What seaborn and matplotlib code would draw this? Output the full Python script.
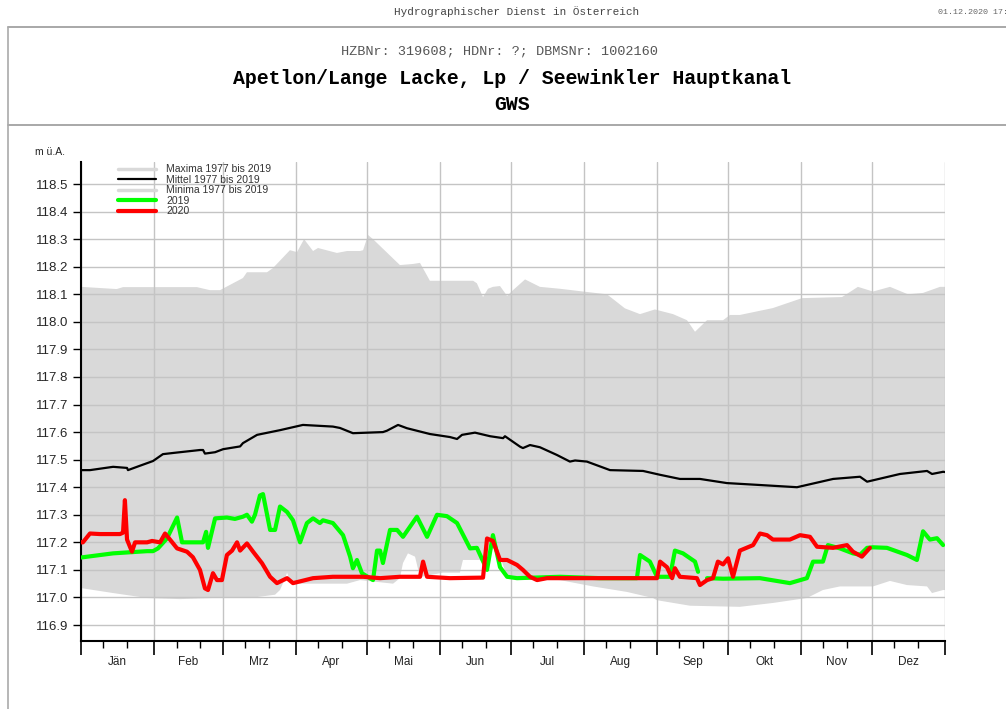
import numpy as np
import matplotlib
matplotlib.use("Agg")
import matplotlib.pyplot as plt
from matplotlib.lines import Line2D
import seaborn as sns

# Tage ab 1. Jänner 2020 (Schaltjahr) und Wasserstände in m ü.A.
max_day = [0, 15.1, 17.8, 49.1, 54.6, 58.9, 68.6, 70.3, 78.8, 81.3, 88.5, 91.5, 94.5, 98.3,
           100.4, 108.4, 112.7, 118.2, 119.5, 121.6, 123.7, 135.1, 140.6, 143.6, 147.8, 166.1,
           167.7, 170.3, 172.4, 174.5, 177.5, 180.5, 183.0, 188.1, 194.4, 202.9, 212.7, 222.8,
           230.4, 236.8, 243.1, 250.8, 256.7, 260.1, 265.2, 272.0, 274.9, 279.1, 293.1, 305.4,
           322.4, 329.1, 335.5, 342.7, 350.3, 356.7, 363.9, 366]
max_val = [118.127, 118.119, 118.126, 118.126, 118.115, 118.115, 118.159, 118.18, 118.18,
           118.195, 118.26, 118.253, 118.30, 118.257, 118.268, 118.25, 118.257, 118.257,
           118.26, 118.315, 118.30, 118.206, 118.21, 118.214, 118.149, 118.149, 118.14,
           118.09, 118.12, 118.127, 118.13, 118.094, 118.115, 118.154, 118.127, 118.12,
           118.11, 118.10, 118.049, 118.028, 118.045, 118.028, 118.006, 117.964, 118.006,
           118.006, 118.025, 118.025, 118.05, 118.086, 118.09, 118.127, 118.11, 118.127,
           118.10, 118.105, 118.127, 118.127]

min_day = [0, 13.6, 28.0, 41.9, 55.9, 71.6, 82.2, 84.3, 86.0, 87.3, 88.5, 92.8, 98.3, 112.7,
           118.2, 132.2, 135.1, 136.4, 138.5, 141.5, 143.6, 153.3, 160.5, 161.8, 169.0, 172.0,
           173.3, 174.5, 177.5, 180.5, 202.9, 216.9, 231.3, 242.3, 244.0, 258.0, 279.1, 293.1,
           307.5, 314.3, 321.5, 335.5, 342.7, 349.9, 358.4, 360.5, 365.2, 366]
min_val = [117.034, 117.016, 116.998, 116.994, 116.998, 116.998, 117.01, 117.027, 117.06,
           117.09, 117.06, 117.05, 117.05, 117.05, 117.063, 117.05, 117.07, 117.125, 117.16,
           117.148, 117.074, 117.09, 117.09, 117.136, 117.136, 117.10, 117.15, 117.18, 117.15,
           117.074, 117.063, 117.04, 117.02, 116.998, 116.99, 116.97, 116.966, 116.98,
           116.998, 117.027, 117.04, 117.04, 117.06, 117.045, 117.04, 117.016, 117.027,
           117.027]

mean_day = [0, 3.8, 13.6, 19.5, 19.9, 25.0, 30.5, 34.7, 39.8, 50.4, 51.7, 52.5, 56.8, 60.2,
            67.4, 68.6, 74.6, 84.3, 94.0, 106.7, 109.7, 115.2, 127.9, 129.6, 134.3, 138.1,
            147.8, 156.3, 159.3, 161.4, 166.9, 173.3, 178.8, 179.6, 186.0, 187.2, 190.2,
            194.4, 201.6, 207.1, 209.3, 214.3, 224.1, 238.1, 245.3, 253.7, 262.2, 273.6,
            287.6, 303.3, 318.6, 330.0, 333.0, 346.9, 358.4, 360.5, 365.2, 366]
mean_val = [117.462, 117.462, 117.474, 117.47, 117.462, 117.478, 117.495, 117.52, 117.525,
            117.535, 117.535, 117.522, 117.527, 117.538, 117.548, 117.56, 117.59, 117.607,
            117.626, 117.62, 117.615, 117.596, 117.60, 117.605, 117.626, 117.614, 117.593,
            117.582, 117.575, 117.59, 117.598, 117.585, 117.578, 117.585, 117.547, 117.542,
            117.553, 117.545, 117.517, 117.493, 117.497, 117.493, 117.462, 117.459, 117.445,
            117.43, 117.43, 117.415, 117.408, 117.40, 117.43, 117.438, 117.42, 117.448,
            117.459, 117.448, 117.456, 117.455]

# 2019: zwei Abschnitte (Lücke Anfang Oktober)
g19_day_a = [0, 13.6, 28.0, 30.5, 32.6, 36.4, 40.7, 42.8, 46.2, 51.7, 53.0, 53.8, 56.8, 61.8,
             65.2, 68.6, 70.3, 72.4, 73.7, 75.8, 77.1, 80.1, 82.2, 84.3, 87.3, 89.8, 92.8,
             95.7, 98.3, 101.2, 102.5, 106.7, 111.0, 114.0, 115.2, 116.9, 119.0, 123.7, 125.4,
             126.7, 127.9, 130.9, 133.9, 136.4, 142.3, 146.6, 150.8, 155.0, 159.3, 164.8,
             167.7, 172.0, 174.5, 177.5, 180.5, 184.7, 202.9, 219.9, 231.3, 235.5, 236.8,
             241.0, 244.0, 249.5, 251.6, 255.0, 260.1, 261.4]
g19_val_a = [117.145, 117.16, 117.168, 117.168, 117.178, 117.214, 117.29, 117.20, 117.20,
             117.20, 117.238, 117.18, 117.287, 117.29, 117.285, 117.293, 117.30, 117.275,
             117.30, 117.37, 117.375, 117.245, 117.245, 117.33, 117.31, 117.28, 117.20,
             117.27, 117.287, 117.27, 117.28, 117.27, 117.226, 117.148, 117.106, 117.136,
             117.088, 117.063, 117.17, 117.17, 117.125, 117.245, 117.245, 117.22, 117.293,
             117.22, 117.30, 117.295, 117.27, 117.178, 117.18, 117.10, 117.226, 117.11,
             117.075, 117.07, 117.075, 117.07, 117.07, 117.07, 117.154, 117.13, 117.075,
             117.075, 117.17, 117.16, 117.13, 117.093]
g19_day_b = [265.2, 272.0, 287.6, 300.3, 307.5, 310.1, 314.3, 316.4, 321.5, 327.0, 330.0,
             333.0, 335.5, 341.4, 349.9, 354.1, 356.7, 359.6, 362.6, 365.2]
g19_val_b = [117.07, 117.068, 117.07, 117.052, 117.07, 117.13, 117.13, 117.19, 117.178,
             117.16, 117.155, 117.18, 117.182, 117.18, 117.154, 117.136, 117.24, 117.21,
             117.215, 117.19]

r20_day = [0, 0.8, 3.8, 8.0, 16.5, 17.8, 18.6, 19.5, 21.6, 22.9, 28.0, 30.1, 33.5, 35.6,
           37.7, 40.7, 44.9, 47.4, 50.4, 52.5, 53.8, 55.9, 57.6, 59.7, 61.8, 64.0, 66.1,
           67.4, 70.3, 72.9, 76.7, 80.1, 83.0, 87.3, 89.8, 98.3, 106.7, 119.5, 126.7, 135.1,
           143.6, 144.9, 146.6, 156.3, 170.3, 172.0, 174.5, 177.5, 180.5, 184.7, 187.2,
           190.2, 193.2, 197.4, 219.9, 244.0, 245.3, 248.2, 250.4, 251.6, 253.7, 260.9,
           262.2, 265.2, 267.7, 269.8, 272.0, 274.1, 276.2, 279.1, 284.7, 287.6, 290.6,
           293.1, 300.3, 304.6, 308.8, 311.8, 318.6, 324.5, 327.0, 330.8, 334.2]
r20_val = [117.20, 117.20, 117.232, 117.23, 117.23, 117.235, 117.353, 117.21, 117.166,
           117.20, 117.20, 117.205, 117.20, 117.232, 117.21, 117.178, 117.166, 117.146,
           117.10, 117.033, 117.027, 117.088, 117.063, 117.063, 117.154, 117.17, 117.20,
           117.17, 117.196, 117.166, 117.124, 117.075, 117.052, 117.07, 117.052, 117.07,
           117.075, 117.075, 117.07, 117.075, 117.075, 117.13, 117.075, 117.07, 117.072,
           117.214, 117.205, 117.136, 117.136, 117.118, 117.10, 117.075, 117.063, 117.07,
           117.07, 117.07, 117.13, 117.11, 117.07, 117.106, 117.075, 117.07, 117.045,
           117.063, 117.07, 117.13, 117.12, 117.142, 117.075, 117.17, 117.19, 117.232,
           117.226, 117.21, 117.21, 117.226, 117.22, 117.184, 117.18, 117.19, 117.166,
           117.148, 117.18]

month_start = [0, 31, 60, 91, 121, 152, 182, 213, 244, 274, 305, 335, 366]
month_labels = ["Jän", "Feb", "Mrz", "Apr", "Mai", "Jun", "Jul", "Aug", "Sep", "Okt", "Nov", "Dez"]
legend_labels = ["Maxima 1977 bis 2019", "Mittel 1977 bis 2019", "Minima 1977 bis 2019", "2019", "2020"]

sns.set_style("white")
plt.rcParams["font.family"] = ["Liberation Sans", "DejaVu Sans"]

fig = plt.figure(figsize=(10.06, 7.09), dpi=100)
ax = fig.add_axes([81 / 1006, 68 / 709, 864 / 1006, 479 / 709])

grau = "#d9d9d9"
# Band zwischen Minima und Maxima
ax.fill(np.r_[max_day, min_day[::-1]], np.r_[max_val, min_val[::-1]],
        color=grau, lw=0, zorder=1)

sns.lineplot(x=mean_day, y=mean_val, color="black", linewidth=1.6, estimator=None, ax=ax, zorder=3)
sns.lineplot(x=g19_day_a, y=g19_val_a, color="#00ff00", linewidth=3, estimator=None, ax=ax, zorder=3)
sns.lineplot(x=g19_day_b, y=g19_val_b, color="#00ff00", linewidth=3, estimator=None, ax=ax, zorder=3)
sns.lineplot(x=r20_day, y=r20_val, color="#ff0000", linewidth=3, estimator=None, ax=ax, zorder=4)

# Achsen
ax.set_xlim(0, 366)
ax.set_ylim(116.842, 118.58)
yticks = np.round(np.arange(116.9, 118.51, 0.1), 1)
ax.set_yticks(yticks)
ax.set_yticklabels([f"{t:.1f}" for t in yticks], fontsize=9.5)
ax.set_xticks(month_start)
ax.set_xticklabels([])
minor = [m + d for m in month_start[:-1] for d in (9.5, 19.5)]
ax.set_xticks(minor, minor=True)
ax.tick_params(axis="y", left=True, direction="out", length=6, width=1, color="black", pad=3)
ax.tick_params(axis="x", which="major", bottom=True, direction="out", length=10, width=1.2, color="black")
ax.tick_params(axis="x", which="minor", bottom=True, direction="out", length=5, width=1, color="black")
for i, lab in enumerate(month_labels):
    ax.text((month_start[i] + month_start[i + 1]) / 2, -0.043, lab, transform=ax.get_xaxis_transform(),
            ha="center", va="center", fontsize=8.5, color="#222222")

ax.set_axisbelow("line")
ax.grid(True, which="major", color="#c4c4c4", linewidth=1.0)
for s in ["top", "right"]:
    ax.spines[s].set_visible(False)
for s in ["left", "bottom"]:
    ax.spines[s].set_color("black")
    ax.spines[s].set_linewidth(1.5)
ax.set_xlabel("")
ax.set_ylabel("")

handles = [Line2D([], [], color=grau, lw=2.5), Line2D([], [], color="black", lw=1.6),
           Line2D([], [], color=grau, lw=2.5), Line2D([], [], color="#00ff00", lw=3),
           Line2D([], [], color="#ff0000", lw=3)]
ax.legend(handles, legend_labels, loc="upper left", bbox_to_anchor=(0.043, 0.995), frameon=False,
          fontsize=7.5, handlelength=3.6, handletextpad=1.0, labelspacing=0.05, borderpad=0,
          borderaxespad=0, labelcolor="#333333")

fig.text(35 / 1006, 1 - 152 / 709, "m ü.A.", fontsize=7.5, ha="left", va="center", color="#222222")

# Kopfbereich
mono = ["Liberation Mono", "DejaVu Sans Mono"]
fig.text(517 / 1006, 1 - 12 / 709, "Hydrographischer Dienst in Österreich", family=mono,
         fontsize=7.9, ha="center", va="center", color="#444444")
fig.text(938 / 1006, 1 - 12 / 709, "01.12.2020 17:", family=mono, fontsize=6,
         ha="left", va="center", color="#666666")
fig.text(499 / 1006, 1 - 52 / 709, "HZBNr: 319608; HDNr: ?; DBMSNr: 1002160", family=mono,
         fontsize=9.7, ha="center", va="center", color="#555555")
fig.text(512 / 1006, 1 - 78 / 709, "Apetlon/Lange Lacke, Lp / Seewinkler Hauptkanal", family=mono,
         fontsize=14.3, fontweight="bold", ha="center", va="center", color="black")
fig.text(512 / 1006, 1 - 105 / 709, "GWS", family=mono, fontsize=14.3, fontweight="bold",
         ha="center", va="center", color="black")

fig.add_artist(Line2D([8 / 1006, 1], [1 - 27 / 709, 1 - 27 / 709], color="#999999", lw=1.2))
fig.add_artist(Line2D([8 / 1006, 1], [1 - 125 / 709, 1 - 125 / 709], color="#999999", lw=1.2))
fig.add_artist(Line2D([8 / 1006, 8 / 1006], [0, 1 - 27 / 709], color="#aaaaaa", lw=1.2))

fig.savefig("out.png", dpi=100)
